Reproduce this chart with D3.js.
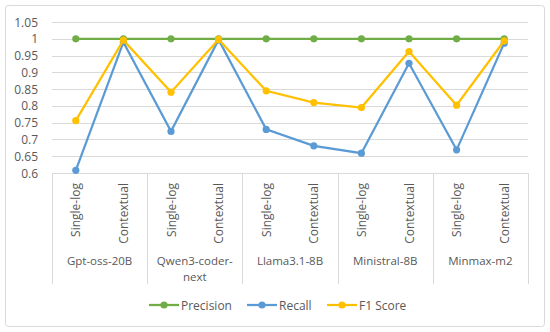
<!DOCTYPE html>
<html><head><meta charset="utf-8">
<script src="https://cdn.jsdelivr.net/npm/d3@7"></script>
<style>body{margin:0;background:#fff}</style>
</head><body>
<svg id="c" width="550" height="332"></svg>
<script>
const groups = ["Gpt-oss-20B", "Qwen3-coder-next", "Llama3.1-8B", "Ministral-8B", "Minmax-m2"];
const groupLines = [["Gpt-oss-20B"], ["Qwen3-coder-", "next"], ["Llama3.1-8B"], ["Ministral-8B"], ["Minmax-m2"]];
const modes = ["Single-log", "Contextual"];
const precision = [1, 1, 1, 1, 1, 1, 1, 1, 1, 1];
const recall = [0.608, 0.99, 0.724, 0.997, 0.73, 0.681, 0.659, 0.927, 0.669, 0.987];
const f1 = [0.756, 0.996, 0.841, 0.998, 0.845, 0.81, 0.795, 0.962, 0.802, 0.994];
const yTicks = [0.6, 0.65, 0.7, 0.75, 0.8, 0.85, 0.9, 0.95, 1, 1.05];
const seriesNames = ["Precision", "Recall", "F1 Score"];
const colors = ["#70AD47", "#5B9BD5", "#FFC000"];

const svg = d3.select("#c");
const font = "'Open Sans', sans-serif";
const txt = "#595959";
svg.append("rect").attr("x", 5.5).attr("y", 5.5).attr("width", 539).attr("height", 321)
  .attr("rx", 3).attr("fill", "#fff").attr("stroke", "#D9D9D9");

const L = 52, R = 528, T = 22, B = 173;
const cats = [];
groups.forEach((g, i) => modes.forEach(m => cats.push(i + "|" + m)));
const x = d3.scaleBand().domain(cats).range([L, R]);
const y = d3.scaleLinear().domain([0.6, 1.05]).range([B, T]);

// gridlines
svg.append("g").selectAll("line").data(yTicks).join("line")
  .attr("x1", L).attr("x2", R).attr("y1", d => Math.round(y(d)) + 0.5).attr("y2", d => Math.round(y(d)) + 0.5)
  .attr("stroke", "#D9D9D9").attr("stroke-width", 1);

// y labels
svg.append("g").selectAll("text").data(yTicks).join("text")
  .attr("x", 38).attr("y", d => y(d) + 4.5).attr("text-anchor", "end")
  .attr("font-family", font).attr("font-size", 12).attr("fill", txt)
  .text(d => d3.format("")(d));

// group separators
const gw = (R - L) / groups.length;
const seps = d3.range(groups.length + 1);
svg.append("g").selectAll("line").data(seps).join("line")
  .attr("x1", d => Math.round(L + d * gw) + 0.5).attr("x2", d => Math.round(L + d * gw) + 0.5)
  .attr("y1", B).attr("y2", 284).attr("stroke", "#D9D9D9");

// category labels
svg.append("g").selectAll("text").data(cats).join("text")
  .attr("transform", d => `translate(${x(d) + x.bandwidth() / 2 + 4.5},183) rotate(-90)`)
  .attr("text-anchor", "end").attr("font-family", font).attr("font-size", 12).attr("fill", txt)
  .text(d => d.split("|")[1]);

// group labels (one text element per line)
const glData = [];
groupLines.forEach((lines, i) => lines.forEach((t, j) => glData.push({ i, j, t })));
svg.append("g").selectAll("text").data(glData).join("text")
  .attr("x", d => L + (d.i + 0.5) * gw).attr("y", d => 264.5 + d.j * 16)
  .attr("text-anchor", "middle").attr("font-family", font).attr("font-size", 11.5).attr("fill", txt)
  .text(d => d.t);

// series
const all = [precision, recall, f1];
const line = d3.line().x((d, i) => x(cats[i]) + x.bandwidth() / 2).y(d => y(d));
all.forEach((s, k) => {
  const g = svg.append("g");
  g.append("path").attr("d", line(s)).attr("fill", "none").attr("stroke", colors[k]).attr("stroke-width", 2.25);
  g.selectAll("circle").data(s).join("circle")
    .attr("cx", (d, i) => x(cats[i]) + x.bandwidth() / 2).attr("cy", d => y(d)).attr("r", 3.6)
    .attr("fill", colors[k]);
});

// legend
const legX = [149, 247, 327];
const lg = svg.append("g");
seriesNames.forEach((n, k) => {
  lg.append("line").attr("x1", legX[k]).attr("x2", legX[k] + 30).attr("y1", 305).attr("y2", 305)
    .attr("stroke", colors[k]).attr("stroke-width", 2.25);
  lg.append("circle").attr("cx", legX[k] + 15).attr("cy", 305).attr("r", 3.6).attr("fill", colors[k]);
  lg.append("text").attr("x", legX[k] + 32).attr("y", 309.5).attr("font-family", font).attr("font-size", 12)
    .attr("fill", txt).text(n);
});
</script>
</body></html>
